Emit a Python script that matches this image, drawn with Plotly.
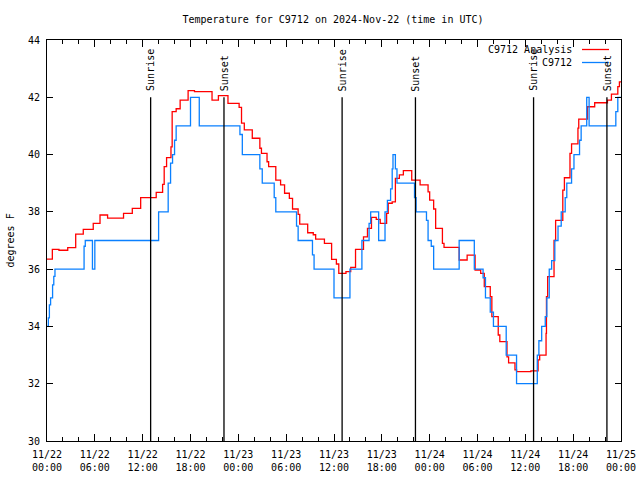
import plotly.graph_objects as go
import pandas as pd

# ---------------- data ----------------
start = "2024-11-22 00:00"
end = "2024-11-25 00:00"

# C9712 Analysis (hours since start, deg F)
analysis_hours = [0.0, 0.67, 1.5, 2.6, 3.6, 4.55, 5.8, 6.65, 7.6, 9.6, 10.7, 11.75,
                  13.7, 14.5, 14.7, 15.0, 15.55, 15.7, 16.2, 16.7, 17.7, 18.5, 20.7, 21.5,
                  22.7, 24.1, 24.4, 24.75, 25.75, 26.7, 26.9, 27.6, 27.8, 28.7, 29.3, 29.8,
                  30.4, 30.8, 31.5, 31.7, 32.7, 33.4, 33.7, 34.8, 35.7, 36.3, 36.6, 37.5,
                  38.1, 38.7, 39.7, 40.2, 40.7, 41.3, 41.8, 42.6, 42.8, 43.3, 43.7, 44.2,
                  44.7, 45.75, 46.8, 47.8, 48.0, 48.5, 48.75, 49.6, 49.8, 51.7, 52.7, 53.7,
                  54.4, 54.85, 55.6, 55.8, 56.6, 56.8, 57.7, 57.9, 58.7, 58.9, 60.7, 61.6,
                  61.8, 62.6, 62.65, 62.8, 63.6, 63.8, 64.7, 64.9, 65.6, 65.8, 66.6, 66.7,
                  67.8, 68.7, 70.3, 70.8, 71.6, 71.8, 72.0]
analysis_vals = [36.35, 36.69, 36.66, 36.75, 37.22, 37.39, 37.6, 37.89, 37.78, 37.95, 38.12, 38.5,
                 38.68, 38.96, 39.58, 39.89, 40.27, 41.5, 41.6, 41.9, 42.23, 42.2, 41.9, 42.06,
                 41.79, 41.65, 41.1, 40.86, 40.57, 40.22, 40.04, 39.75, 39.58, 39.11, 38.94, 38.65,
                 38.47, 38.1, 37.91, 37.57, 37.27, 37.2, 37.05, 36.9, 36.34, 36.18, 35.85, 35.91,
                 36.06, 36.69, 37.13, 37.42, 37.81, 37.74, 37.6, 37.95, 38.3, 38.35, 39.17, 39.29,
                 39.44, 39.11, 38.94, 38.7, 38.41, 38.1, 37.42, 36.9, 36.76, 36.32, 36.49, 35.97,
                 35.85, 35.39, 35.04, 34.34, 33.7, 33.47, 32.94, 32.73, 32.48, 32.42, 32.45, 32.83,
                 33.0, 33.76, 35.04, 35.74, 37.0, 37.7, 38.76, 39.19, 40.04, 40.37, 40.92, 41.24,
                 41.67, 41.81, 41.9, 42.11, 42.37, 42.54, 42.54]

# C9712 observations (hours since start, deg F)
obs_hours = [0.0, 0.17, 0.3, 0.45, 0.7, 0.85, 1.0, 4.65, 4.8, 5.7, 6.0, 14.0,
             15.2, 15.5, 15.75, 16.0, 16.2, 18.0, 19.1, 24.2, 24.5, 26.7, 27.0, 28.5,
             28.7, 31.3, 31.5, 33.3, 33.5, 36.0, 38.0, 39.5, 40.4, 40.6, 41.6, 42.4,
             42.7, 43.1, 43.3, 43.4, 43.7, 43.9, 46.1, 46.3, 47.6, 47.8, 48.2, 48.5,
             51.7, 53.6, 54.7, 55.0, 55.6, 56.0, 57.6, 58.9, 61.5, 61.7, 62.05, 62.5,
             62.7, 63.0, 63.3, 63.7, 64.1, 64.5, 65.0, 65.2, 65.8, 66.1, 66.8, 67.0,
             67.7, 68.0, 71.35, 71.6, 72.0]
obs_vals = [34.0, 34.3, 34.75, 35.0, 35.45, 35.75, 36.0, 36.8, 37.0, 36.0, 37.0, 38.0,
            39.0, 39.7, 40.0, 40.5, 41.0, 42.0, 41.0, 40.7, 40.0, 39.5, 39.0, 38.5,
            38.0, 37.5, 37.0, 36.5, 36.0, 35.0, 36.0, 37.0, 37.6, 38.0, 37.0, 38.0,
            38.4, 38.8, 39.5, 40.0, 39.5, 39.0, 38.5, 38.0, 37.7, 37.0, 36.8, 36.0,
            37.0, 36.0, 35.7, 35.0, 34.5, 34.0, 33.0, 32.0, 33.0, 33.5, 34.0, 34.34,
            35.0, 36.0, 36.3, 37.0, 37.5, 38.0, 38.5, 39.0, 39.5, 40.0, 40.5, 41.0,
            42.0, 41.0, 41.5, 42.0, 42.0]

sun_events = ["Sunrise", "Sunset", "Sunrise", "Sunset", "Sunrise", "Sunset"]
sun_times = ["2024-11-22 13:00", "2024-11-22 22:12", "2024-11-23 13:01",
             "2024-11-23 22:13", "2024-11-24 13:02", "2024-11-24 22:14"]

title_text = "Temperature for C9712 on 2024-Nov-22 (time in UTC)"
ylabel = "degrees F"
series_names = ["C9712 Analysis", "C9712"]
series_colors = ["#ff0000", "#0a80ff"]

# ---------------- figure ----------------
t0 = pd.Timestamp(start)
def to_times(hours):
    return [(t0 + pd.Timedelta(hours=h)).strftime("%Y-%m-%d %H:%M:%S") for h in hours]

FONT = "DejaVu Sans Mono"
W, H = 640, 480
L, R, T, B = 47, 19, 40, 39
pw = W - L - R
ph = H - T - B

fig = go.Figure()
fig.add_trace(go.Scatter(x=to_times(analysis_hours), y=analysis_vals, mode="lines",
                         line=dict(color=series_colors[0], width=1.3, shape="hv"),
                         name=series_names[0]))
fig.add_trace(go.Scatter(x=to_times(obs_hours), y=obs_vals, mode="lines",
                         line=dict(color=series_colors[1], width=1.3, shape="hv"),
                         name=series_names[1]))

for ev, tm in zip(sun_events, sun_times):
    fig.add_shape(type="line", xref="x", yref="y", x0=tm, x1=tm, y0=30, y1=42,
                  line=dict(color="black", width=1.3), layer="above")
    fig.add_annotation(x=tm, y=42, xref="x", yref="y", text=ev, textangle=-90,
                       showarrow=False, yanchor="bottom", xanchor="center", yshift=4,
                       font=dict(family=FONT, size=10, color="black"))

# custom gnuplot-style legend (text left, sample right)
for i, (nm, col) in enumerate(zip(series_names, series_colors)):
    ypx = 49.5 + i * 13
    yp = 1 - (ypx - T) / ph
    fig.add_annotation(xref="paper", yref="paper", x=(574 - L) / pw, y=yp, text=nm,
                       showarrow=False, xanchor="right", yanchor="middle",
                       font=dict(family=FONT, size=10, color="black"))
    fig.add_shape(type="line", xref="paper", yref="paper",
                  x0=(582 - L) / pw, x1=(609 - L) / pw, y0=yp, y1=yp,
                  line=dict(color=col, width=1.3))

fig.add_annotation(xref="paper", yref="paper", x=(10 - L) / pw, y=0.5, text=ylabel,
                   textangle=-90, showarrow=False, xanchor="center", yanchor="middle",
                   font=dict(family=FONT, size=10, color="black"))

fig.update_layout(
    width=W, height=H,
    margin=dict(l=L, r=R, t=T, b=B, pad=0, autoexpand=False),
    paper_bgcolor="white", plot_bgcolor="white",
    showlegend=False,
    font=dict(family=FONT, size=10, color="black"),
    title=dict(text=title_text, x=333 / W, xanchor="center", xref="container",
               y=1 - 19 / H, yref="container", yanchor="middle",
               font=dict(family=FONT, size=10, color="black")),
)

fig.update_xaxes(
    range=[start, end], type="date",
    tickformat="%m/%d<br>%H:%M", dtick=6 * 3600 * 1000, tick0=start,
    ticks="inside", ticklen=7, tickwidth=1, tickcolor="black",
    minor=dict(dtick=2 * 3600 * 1000, ticks="inside", ticklen=4, tickcolor="black", tickwidth=1),
    showline=True, linecolor="black", linewidth=1, mirror="allticks",
    showgrid=False, zeroline=False, automargin=False, ticklabelstandoff=4,
    tickfont=dict(family=FONT, size=10, color="black"),
)
fig.update_yaxes(
    range=[30, 44], dtick=2, tick0=30,
    ticks="inside", ticklen=6, tickwidth=1, tickcolor="black",
    showline=True, linecolor="black", linewidth=1, mirror="allticks",
    showgrid=False, zeroline=False, automargin=False, ticklabelstandoff=4,
    tickfont=dict(family=FONT, size=10, color="black"),
)

fig.write_html("out.html", config={"displayModeBar": False},
               post_script="document.body.style.margin='0';document.body.style.padding='0';")
